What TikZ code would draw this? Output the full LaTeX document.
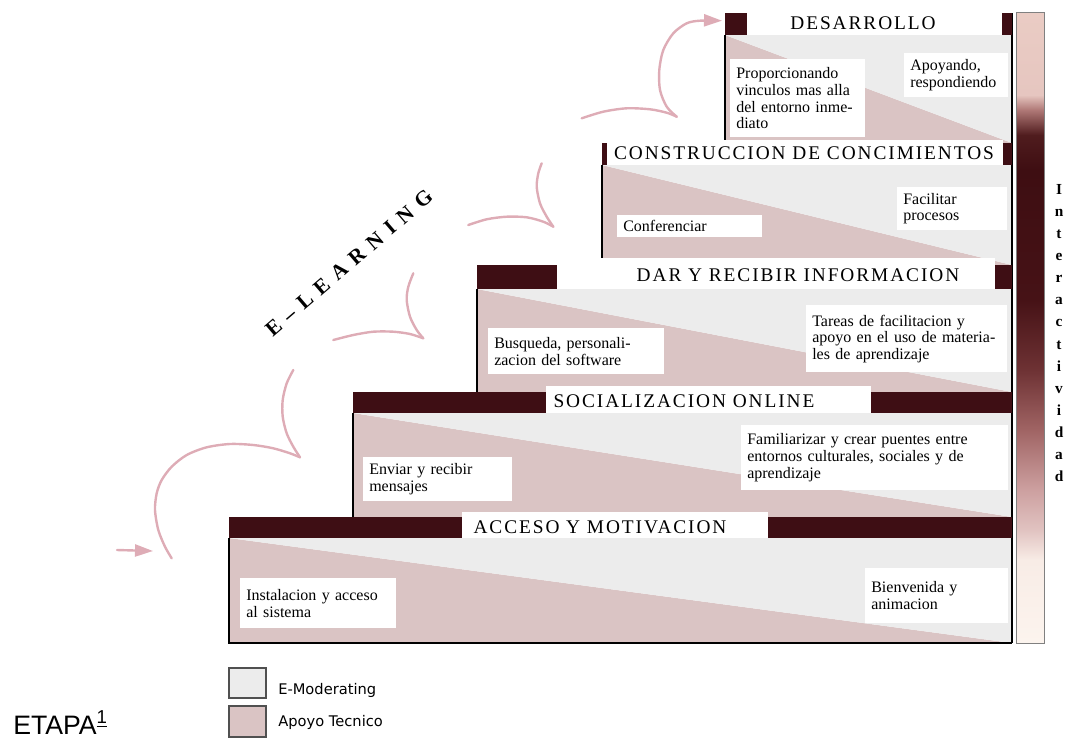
\documentclass[tikz,border=0pt]{standalone}
\usepackage{fontspec}
\setmainfont{Liberation Serif}
\newfontfamily\hdrfont[LetterSpace=10]{Liberation Serif}
\newfontfamily\elfont[LetterSpace=38]{Liberation Serif}
\newfontfamily\legfont{DejaVu Sans}
\newfontfamily\etapafont{Liberation Sans}
\usetikzlibrary{arrows.meta}
\definecolor{hdrred}{RGB}{62,14,20}
\definecolor{emod}{RGB}{236,236,236}
\definecolor{apoyo}{RGB}{218,196,196}
\definecolor{arcpink}{RGB}{222,172,182}
\definecolor{legline}{RGB}{80,80,80}
\definecolor{barA}{RGB}{252,244,238}
\definecolor{barB}{RGB}{248,236,230}
\definecolor{barC}{RGB}{225,195,193}
\definecolor{barD}{RGB}{205,160,160}
\definecolor{barE}{RGB}{160,100,100}
\definecolor{barF}{RGB}{110,50,52}
\definecolor{barG}{RGB}{70,18,22}
\definecolor{barH}{RGB}{62,14,18}
\definecolor{barI}{RGB}{80,28,30}
\definecolor{barJ}{RGB}{175,120,118}
\definecolor{barK}{RGB}{230,198,192}
\definecolor{barL}{RGB}{234,204,196}
\pgfdeclareverticalshading{interact}{100bp}{color(0bp)=(barA); color(25bp)=(barA);
  color(31.58bp)=(barB); color(33.95bp)=(barC); color(37.12bp)=(barD);
  color(41.88bp)=(barE); color(46.63bp)=(barF); color(52.18bp)=(barG);
  color(62.48bp)=(barH); color(65.25bp)=(barI); color(67.23bp)=(barJ);
  color(68.42bp)=(barK); color(75bp)=(barL); color(100bp)=(barL)}
\tikzset{
  hdr/.style={fill=hdrred},
  ttl/.style={font=\hdrfont\fontsize{14.5}{16}\selectfont, inner sep=0pt},
  note/.style={fill=white, anchor=north west, align=left, inner xsep=4.5pt,
    inner ysep=2pt, text width=#1, font=\fontsize{12}{12.5}\selectfont},
  stepline/.style={draw=black, line width=1pt},
  pinkarc/.style={draw=arcpink, line width=1.8pt, line cap=round},
  pinktip/.style={-{Triangle[length=13.5pt,width=9pt]}},
  vletter/.style={font=\bfseries\fontsize{11.5}{11.5}\selectfont, anchor=base, inner sep=0pt},
  eltext/.style={font=\elfont\bfseries\fontsize{16}{16}\selectfont, inner sep=0pt, rotate=40.7},
  legbox/.style={fill=#1, draw=legline, line width=0.8pt},
  legtext/.style={font=\legfont\fontsize{11}{13}\selectfont, anchor=west, inner sep=0pt}
}

\begin{document}
\begin{tikzpicture}[x=0.75pt, y=-0.75pt]
  \useasboundingbox (0,0) rectangle (1074,740);

  % bodies
  \fill[apoyo] (725,35) -- (1012,143) -- (725,143) -- cycle;
  \fill[emod] (725,35) -- (1012,35) -- (1012,143) -- cycle;
  \fill[apoyo] (602,165) -- (1012,265) -- (602,265) -- cycle;
  \fill[emod] (602,165) -- (1012,165) -- (1012,265) -- cycle;
  \fill[apoyo] (477,289) -- (1012,392) -- (477,392) -- cycle;
  \fill[emod] (477,289) -- (1012,289) -- (1012,392) -- cycle;
  \fill[apoyo] (353,413) -- (1012,517) -- (353,517) -- cycle;
  \fill[emod] (353,413) -- (1012,413) -- (1012,517) -- cycle;
  \fill[apoyo] (229,538) -- (1012,643) -- (229,643) -- cycle;
  \fill[emod] (229,538) -- (1012,538) -- (1012,643) -- cycle;
  \draw[stepline] (725,35) -- (725,143);
  \draw[stepline] (602,165) -- (602,265);
  \draw[stepline] (477,289) -- (477,392);
  \draw[stepline] (353,413) -- (353,517);
  \draw[stepline] (229,538) -- (229,643) -- (1012,643);
  \draw[stepline] (1012,13) -- (1012,643);

  % headers
  \fill[hdr] (725,13) rectangle (1012,35);
  \fill[hdr] (602,143) rectangle (1012,165);
  \fill[hdr] (477,265) rectangle (1012,289);
  \fill[hdr] (353,392) rectangle (1012,413);
  \fill[hdr] (229,517) rectangle (1012,538);
  \fill[white] (747,13) rectangle (1002,35);
  \fill[white] (607,140) rectangle (1003,165);
  \fill[white] (557,258) rectangle (995,289);
  \fill[white] (546,386) rectangle (871,413);
  \fill[white] (462,512) rectangle (768,538);
  \node[ttl] (t5) at (863,23) {DESARROLLO};
  \node[ttl] (t4) at (804,153) {CONSTRUCCION DE CONCIMIENTOS};
  \node[ttl] (t3) at (798,275) {DAR Y RECIBIR INFORMACION};
  \node[ttl] (t2) at (684,401) {SOCIALIZACION ONLINE};
  \node[ttl] (t1) at (600,527) {ACCESO Y MOTIVACION};

  % notes
  \node[note=92.25pt, minimum height=58.5pt] (n5a) at (730,59) {Proporcionando\\vinculos mas alla\\del entorno inme-\\diato};
  \node[note=69pt, minimum height=33pt] (n5b) at (904,53) {Apoyando,\\respondiendo};
  \node[note=99.75pt, minimum height=16.5pt] (n4a) at (617,215) {Conferenciar};
  \node[note=73.5pt, minimum height=32.25pt] (n4b) at (897,187) {Facilitar\\procesos};
  \node[note=123pt, minimum height=34.5pt] (n3a) at (488,328) {Busqueda, personali-\\zacion del software};
  \node[note=141.75pt, minimum height=50.25pt] (n3b) at (806,305) {Tareas de facilitacion y\\apoyo en el uso de materia-\\les de aprendizaje};
  \node[note=102.75pt, minimum height=33pt] (n2a) at (363,457) {Enviar y recibir\\mensajes};
  \node[note=191.25pt, minimum height=48.75pt] (n2b) at (741,425) {Familiarizar y crear puentes entre\\entornos culturales, sociales y de\\aprendizaje};
  \node[note=108pt, minimum height=37.5pt] (n1a) at (240,578) {Instalacion y acceso\\al sistema};
  \node[note=98.25pt, minimum height=41.25pt] (n1b) at (865,568) {Bienvenida y\\animacion};

  % interactividad
  \shade[shading=interact] (1016,12) rectangle (1044,643);
  \draw[gray, line width=0.5pt] (1016,12) rectangle (1044,643);
  \foreach \ch [count=\i from 0] in {I,n,t,e,r,a,c,t,i,v,i,d,a,d}
    \node[vletter] (v\i) at (1059,{194+\i*22.15}) {\ch};

  % e-learning
  \node[eltext] (elearn) at (349,263) {E\textendash LEARNING};
  \draw[pinkarc, pinktip] (117,550) -- (153,551);
  \draw[pinkarc] plot[smooth] coordinates {(171.7,558.3) (165,546.7) (158.3,530) (155,510) (156.7,493.3) (161.7,480) (171.7,466.7) (186.7,455) (206.7,447.3) (230,444) (253.3,445) (273.3,448.3) (290,453.3) (300,457.3)};
  \draw[pinkarc] plot[smooth] coordinates {(300,457.3) (293.3,446.7) (286.7,433.3) (282.7,416.7) (282.7,400) (286.7,383.3) (293.3,370)};
  \draw[pinkarc] plot[smooth] coordinates {(333.3,340) (353.3,335) (373.3,331.7) (393.3,331.7) (410,334) (423.3,338.3)};
  \draw[pinkarc] plot[smooth] coordinates {(423.3,338.3) (416.7,330) (410,316.7) (406.7,300) (408.3,286.7) (413.3,273.3)};
  \draw[pinkarc] plot[smooth] coordinates {(468.3,225) (486.7,219.3) (506.7,216.7) (526.7,217.3) (543.3,221.7) (553.3,226.7)};
  \draw[pinkarc] plot[smooth] coordinates {(553.3,226.7) (546.7,216.7) (540,203.3) (536.7,186.7) (538.3,173.3) (541.7,163.3)};
  \draw[pinkarc] plot[smooth] coordinates {(581.7,118.3) (603.3,111.7) (626.7,108.3) (650,109.3) (666.7,112.7) (676.7,116.7)};
  \draw[pinkarc, pinktip] plot[smooth] coordinates {(676.7,116.7) (666.7,106.7) (660,90) (659.3,70) (663.3,50) (673.3,33.3) (686.7,23.3) (700,20.7) (722,20.7)};

  % legend
  \draw[legbox=emod] (229,668) rectangle (266,698);
  \draw[legbox=apoyo] (229,706) rectangle (266,737);
  \node[legtext] (lg1) at (278,690) {E-Moderating};
  \node[legtext] (lg2) at (278,722) {Apoyo Tecnico};
  \node[anchor=base west, inner sep=0pt, font=\etapafont\fontsize{20}{22}\selectfont] (etapa) at (13,734) {ETAPA\textsuperscript{\underline{1}}};
\end{tikzpicture}
\end{document}
